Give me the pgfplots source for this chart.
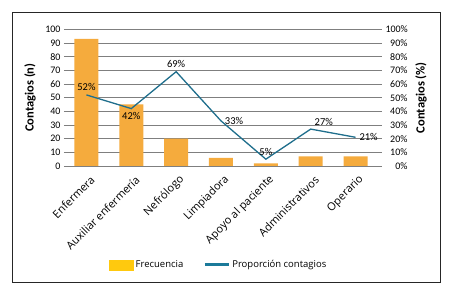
\documentclass[border=0pt]{standalone}
\usepackage{fontspec}
\setmainfont{Carlito}
\newfontfamily\labfont{Open Sans}
\usepackage{pgfplots}
\pgfplotsset{compat=1.18}
\definecolor{barorange}{HTML}{F5AB3D}
\definecolor{legyellow}{HTML}{FFC90E}
\definecolor{linecol}{HTML}{1F6E8C}
\definecolor{legline}{HTML}{1B7A9A}
\definecolor{gridc}{HTML}{7F7F7F}
\begin{document}
\begin{tikzpicture}
\useasboundingbox (-64pt,-120pt) rectangle (396pt,166pt);
\pgfplotsset{common/.style={scale only axis, width=314pt, height=136.7pt,
  xmin=-0.5, xmax=6.5, ymin=0, ymax=100, ytick={0,10,...,100}, xtick=data,
  axis line style={draw=none}, /pgf/number format/assume math mode=true,
  tick label style={font=\fontsize{10}{12}\selectfont}}}
\begin{axis}[common, ymajorgrids, grid style={gridc, line width=0.6pt},
  major tick length=0pt,
  xticklabels={Enfermera, Auxiliar enfermería, Nefrólogo, Limpiadora, Apoyo al paciente, Administrativos, Operario},
  xticklabel style={xshift=7pt, yshift=-11pt, rotate=45, anchor=east, inner sep=1pt, font=\labfont\fontsize{11}{13}\selectfont},
  ylabel={\textbf{Contagios (n)}},
  ylabel style={font=\fontsize{12.5}{14}\selectfont, at={(axis description cs:-0.108,0.5)}, anchor=center}]
\addplot[ybar, bar width=24pt, fill=barorange, draw=none] coordinates {(0,93)(1,45)(2,20)(3,6)(4,2)(5,7)(6,7)};
\end{axis}
\begin{axis}[common, axis y line*=right, axis x line=none,
  tick align=outside, major tick length=4pt, ytick style={gridc, line width=0.6pt},
  yticklabel={\pgfmathprintnumber{\tick}\%},
  yticklabel style={text width=22pt, align=right},
  ylabel={\textbf{Contagios (\%)}},
  ylabel style={font=\fontsize{12.5}{14}\selectfont, at={(axis description cs:1.137,0.5)}, anchor=center},
  legend style={at={(0.493,-0.724)}, anchor=center, draw=none, legend columns=2,
    /tikz/every even column/.append style={column sep=18pt}, font=\labfont\fontsize{9.5}{12}\selectfont}]
\addlegendimage{legend image code/.code={\fill[legyellow] (0pt,-5pt) rectangle (24pt,5pt);}}
\addlegendentry{Frecuencia}
\addplot[linecol, line width=1.3pt, mark=none,
  legend image code/.code={\draw[legline, line width=3pt] (0pt,0pt) -- (24pt,0pt);},
  nodes near coords={\pgfmathprintnumber{\pgfplotspointmeta}\%}, point meta=y,
  visualization depends on={value \thisrow{anc} \as \anc},
  every node near coord/.append style={anchor=\anc, font=\fontsize{10.5}{12}\selectfont, text=black}]
  table {
x y anc
0 52 south
1 42 north
2 69 south
3 33 west
4 5 south
5 27 {south west}
6 21 west
};
\addlegendentry{Proporción contagios}
\end{axis}
\draw[black!85, line width=0.8pt] (-52pt,-116pt) rectangle (376.5pt,153.3pt);
\end{tikzpicture}
\end{document}
